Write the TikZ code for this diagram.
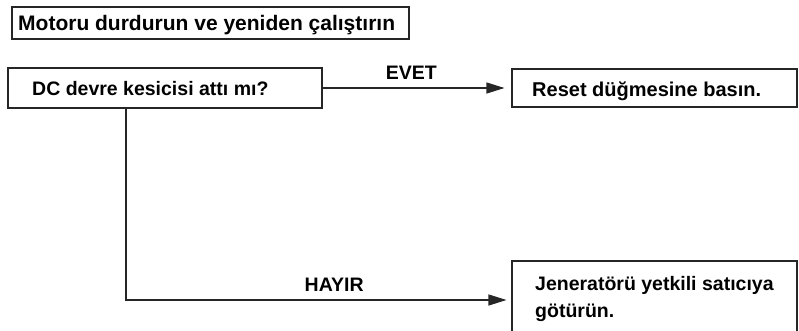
\documentclass[tikz,border=0pt]{standalone}
\usepackage{fontspec}
\setmainfont{Liberation Sans}
\usetikzlibrary{arrows.meta}
\begin{document}
\begin{tikzpicture}[x=1pt,y=-1pt,
  boxs/.style={draw=black!85, line width=1.1pt, inner sep=0pt},
  txt/.style={inner sep=0pt, anchor=base west, font=\bfseries\fontsize{19.5}{27}\selectfont},
  lab/.style={inner sep=0pt, font=\bfseries\fontsize{19.5}{27}\selectfont},
  conn/.style={draw=black!85, line width=1.1pt, -{Triangle[length=18pt,width=11pt]}}
]
\useasboundingbox (0,0) rectangle (799,330);
\clip (0,0) rectangle (799,330);
% boxes
\node[boxs, minimum width=397pt, minimum height=32pt] (title) at (210.5,23) {};
\node[boxs, minimum width=314pt, minimum height=40pt] (dc) at (165,88) {};
\node[boxs, minimum width=285pt, minimum height=38pt] (reset) at (654.5,88) {};
\node[boxs, minimum width=285pt, minimum height=78pt] (gen) at (654.5,300) {};
% texts
\node[txt, font=\bfseries\fontsize{21}{25}\selectfont] (titlet) at (18,30) {Motoru durdurun ve yeniden çalıştırın};
\node[txt] (dct) at (32,95) {DC devre kesicisi attı mı?};
\node[txt, font=\bfseries\fontsize{20}{27}\selectfont] (resett) at (532,96) {Reset düğmesine basın.};
\node[txt, align=left] (gent) at (535,317) {Jeneratörü yetkili satıcıya\\götürün.};
% connectors
\draw[conn, shorten >=7pt] (dc.east) -- node[lab, pos=0.47, above=8pt] (evet) {EVET} (reset.west);
\coordinate (corner) at ([xshift=-39pt]dc.south |- gen.west);
\draw[conn, shorten >=5pt] ([xshift=-39pt]dc.south) -- (corner) -- node[lab, pos=0.54, above=8pt] (hayir) {HAYIR} (gen.west);
\end{tikzpicture}
\end{document}
